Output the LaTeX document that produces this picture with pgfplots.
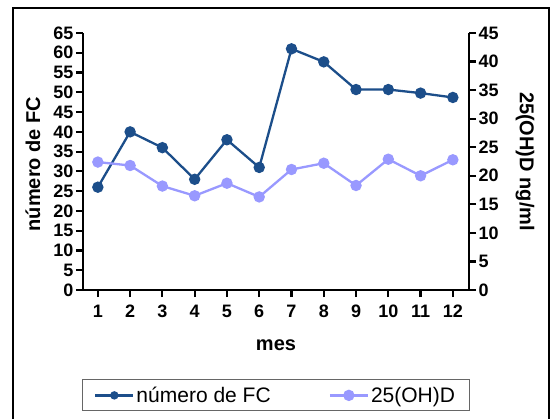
\documentclass[border=0pt]{standalone}
\usepackage{pgfplots}
\pgfplotsset{compat=1.18}
\usepackage{fontspec}
\setmainfont{Liberation Sans}
\definecolor{fcblue}{RGB}{28,78,138}
\definecolor{dlight}{RGB}{153,153,255}
\begin{document}
\begin{tikzpicture}[x=1pt,y=1pt]
\useasboundingbox (0,0) rectangle (554,418);
\fill[white] (0,0) rectangle (554,418);
\draw[line width=2pt] (13,-10) -- (13,410) -- (549,410) -- (549,-10);
\pgfplotsset{
  base/.style={
    at={(83pt,128pt)}, anchor=south west, scale only axis, width=386pt, height=257pt,
    xmin=0.54, xmax=12.5, clip=false,
    axis line style={-, line width=2.6pt, black},
    tick style={line width=2.2pt, black},
    major tick length=7pt,
    tick align=outside,
    /pgf/number format/assume math mode=true,
    tick label style={font=\fontsize{18}{19}\selectfont\bfseries, inner sep=2.5pt},
    label style={font=\fontsize{20}{22}\selectfont\bfseries},
  }
}
\begin{axis}[base,
  axis x line*=bottom, axis y line*=left,
  xtick={1,...,12}, xtick pos=bottom, ytick pos=left,
  xticklabel style={yshift=-5pt},
  ymin=0, ymax=65, ytick={0,5,...,65},
  xlabel={mes}, ylabel={número de FC},
  xlabel style={at={(axis description cs:0.5,-0.214)}, anchor=center},
  ylabel style={at={(axis description cs:-0.1295,0.49)}, anchor=center},
]
\addplot[fcblue, line width=2.3pt, mark=*, mark size=4.5pt] coordinates {
(1,26) (2,40) (3,36) (4,28) (5,38) (6,31) (7,61) (8,57.7) (9,50.7) (10,50.7) (11,49.8) (12,48.7)};
\end{axis}
\begin{axis}[base,
  axis x line=none, axis y line*=right,
  ytick pos=right, yticklabel pos=right,
  ymin=0, ymax=45, ytick={0,5,...,45},
  ylabel={25(OH)D ng/ml},
  ylabel style={at={(axis description cs:1.145,0.5)}, anchor=center, rotate=180},
  legend columns=2,
  legend style={at={(axis description cs:0.499,-0.41)}, anchor=center,
    draw=gray!80!black, line width=1pt, font=\fontsize{21}{23}\selectfont,
    inner xsep=12pt, inner ysep=5pt,
    /tikz/every even column/.append style={column sep=56pt}},
  legend image code/.code={\draw[mark repeat=2,mark phase=2,#1] plot coordinates {(0pt,0pt) (19pt,0pt) (38pt,0pt)};},
]
\addlegendimage{fcblue, line width=2.3pt, mark=*, mark size=3pt}
\addlegendentry{número de FC}
\addplot[dlight, line width=2.3pt, mark=*, mark size=4.5pt] coordinates {
(1,22.4) (2,21.8) (3,18.2) (4,16.5) (5,18.7) (6,16.3) (7,21.1) (8,22.2) (9,18.3) (10,22.9) (11,20.0) (12,22.8)};
\addlegendentry{25(OH)D}
\end{axis}
\end{tikzpicture}
\end{document}
